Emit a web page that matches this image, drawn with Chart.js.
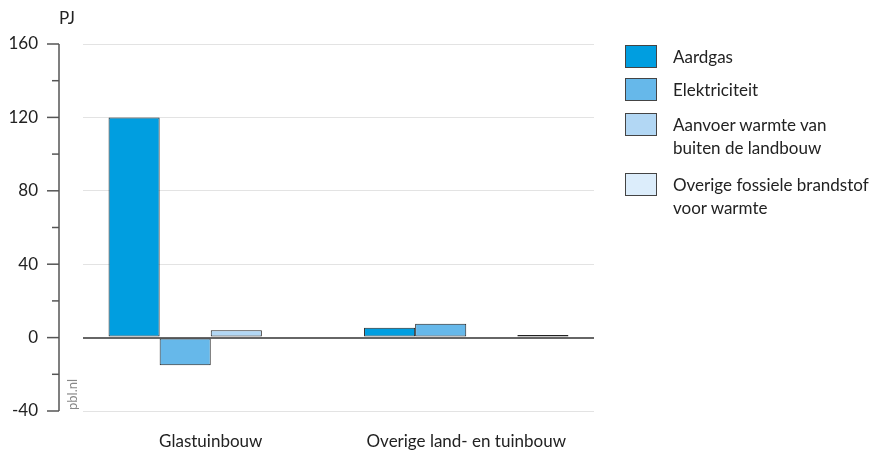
<!DOCTYPE html>
<html>
<head>
<meta charset="utf-8">
<script src="https://cdn.jsdelivr.net/npm/chart.js@4.4.1/dist/chart.umd.min.js"></script>
<style>
  html, body { margin: 0; padding: 0; background: #fff; overflow: hidden; }
  #wrap { position: relative; width: 881px; height: 451px; }
  #c { position: absolute; left: 0; top: 0; }
  #legend { position: absolute; left: 625px; top: 45px; font-family: Lato, sans-serif; font-size: 17px; color: #222; }
  .item { position: absolute; left: 0; padding-left: 48px; line-height: 23px; white-space: nowrap; }
  .box { position: absolute; left: 0; top: 0; width: 30px; height: 21px; border: 1px solid #444; box-sizing: content-box; }
</style>
</head>
<body>
<div id="wrap">
  <canvas id="c" width="881" height="451" style="width:881px;height:451px"></canvas>
  <div id="legend"></div>
</div>
<script>
const categories = ["Glastuinbouw", "Overige land- en tuinbouw"];
const seriesNames = [
  ["Aardgas"],
  ["Elektriciteit"],
  ["Aanvoer warmte van", "buiten de landbouw"],
  ["Overige fossiele brandstof", "voor warmte"]
];
const aardgas = [120, 5.3];
const elektriciteit = [-15, 7.5];
const aanvoerWarmte = [4.0, 0];
const overigeFossiel = [0, 1.4];
const yTicks = [-40, 0, 40, 80, 120, 160];
const unitLabel = "PJ";
const sourceLabel = "pbl.nl";

const colors = ["#009ee0", "#66b8ea", "#b2d7f4", "#dcedfb"];
const seriesValues = [aardgas, elektriciteit, aanvoerWarmte, overigeFossiel];

const FONT = "Lato, sans-serif";

const axisPlugin = {
  id: "axisPlugin",
  afterDraw(chart) {
    const ctx = chart.ctx;
    const y = chart.scales.y;
    const ax = chart.chartArea.left - 24;
    ctx.save();
    ctx.strokeStyle = "#555";
    ctx.lineWidth = 1.5;
    ctx.beginPath();
    ctx.moveTo(ax, y.getPixelForValue(yTicks[yTicks.length - 1]));
    ctx.lineTo(ax, y.getPixelForValue(yTicks[0]));
    ctx.stroke();
    const lo = yTicks[0], hi = yTicks[yTicks.length - 1];
    const step = (yTicks[1] - yTicks[0]) / 2;
    for (let v = lo; v <= hi; v += step) {
      const py = y.getPixelForValue(v);
      const major = yTicks.includes(v);
      ctx.beginPath();
      ctx.moveTo(ax - (major ? 12 : 7), py);
      ctx.lineTo(ax, py);
      ctx.stroke();
    }
    ctx.fillStyle = "#222";
    ctx.font = "17px " + FONT;
    ctx.textBaseline = "middle";
    ctx.textAlign = "left";
    ctx.fillText(unitLabel, ax, 19);
    ctx.save();
    ctx.translate(ax + 14, y.getPixelForValue(lo) - 1);
    ctx.rotate(-Math.PI / 2);
    ctx.fillStyle = "#888";
    ctx.font = "13px " + FONT;
    ctx.textAlign = "left";
    ctx.fillText(sourceLabel, 0, 0);
    ctx.restore();
    ctx.restore();
  }
};

new Chart(document.getElementById("c"), {
  type: "bar",
  data: {
    labels: categories,
    datasets: seriesValues.map((vals, i) => ({
      label: seriesNames[i].join(" "),
      data: vals,
      backgroundColor: colors[i],
      borderColor: "#222",
      borderWidth: 1,
      borderSkipped: false,
      categoryPercentage: 0.8,
      barPercentage: 1.0
    }))
  },
  options: {
    responsive: false,
    animation: false,
    devicePixelRatio: 1,
    layout: { padding: { left: 0, right: 287, top: 44, bottom: 0 } },
    plugins: { legend: { display: false }, tooltip: { enabled: false } },
    scales: {
      x: {
        grid: { display: false },
        border: { display: false },
        ticks: { color: "#222", font: { family: FONT, size: 17 }, padding: 12 },
        afterFit(s) { s.height = 40; }
      },
      y: {
        min: yTicks[0],
        max: yTicks[yTicks.length - 1],
        afterBuildTicks(s) { s.ticks = yTicks.map(v => ({ value: v })); },
        grid: {
          drawTicks: false,
          color: ctx => ctx.tick && ctx.tick.value === 0 ? "#666" : "#e3e3e3",
          lineWidth: ctx => ctx.tick && ctx.tick.value === 0 ? 2 : 1
        },
        border: { display: false },
        ticks: { color: "#222", font: { family: FONT, size: 17 }, padding: 45 },
        afterFit(s) { s.width = 83; s.paddingTop = 10; s.paddingBottom = 10; }
      }
    }
  },
  plugins: [axisPlugin]
});

const legend = document.getElementById("legend");
const rowTops = [0, 33, 68, 128];
seriesNames.forEach((lines, i) => {
  const d = document.createElement("div");
  d.className = "item";
  d.style.top = rowTops[i] + "px";
  d.innerHTML = '<span class="box" style="background:' + colors[i] + '"></span>' + lines.join("<br>");
  legend.appendChild(d);
});
</script>
</body>
</html>
